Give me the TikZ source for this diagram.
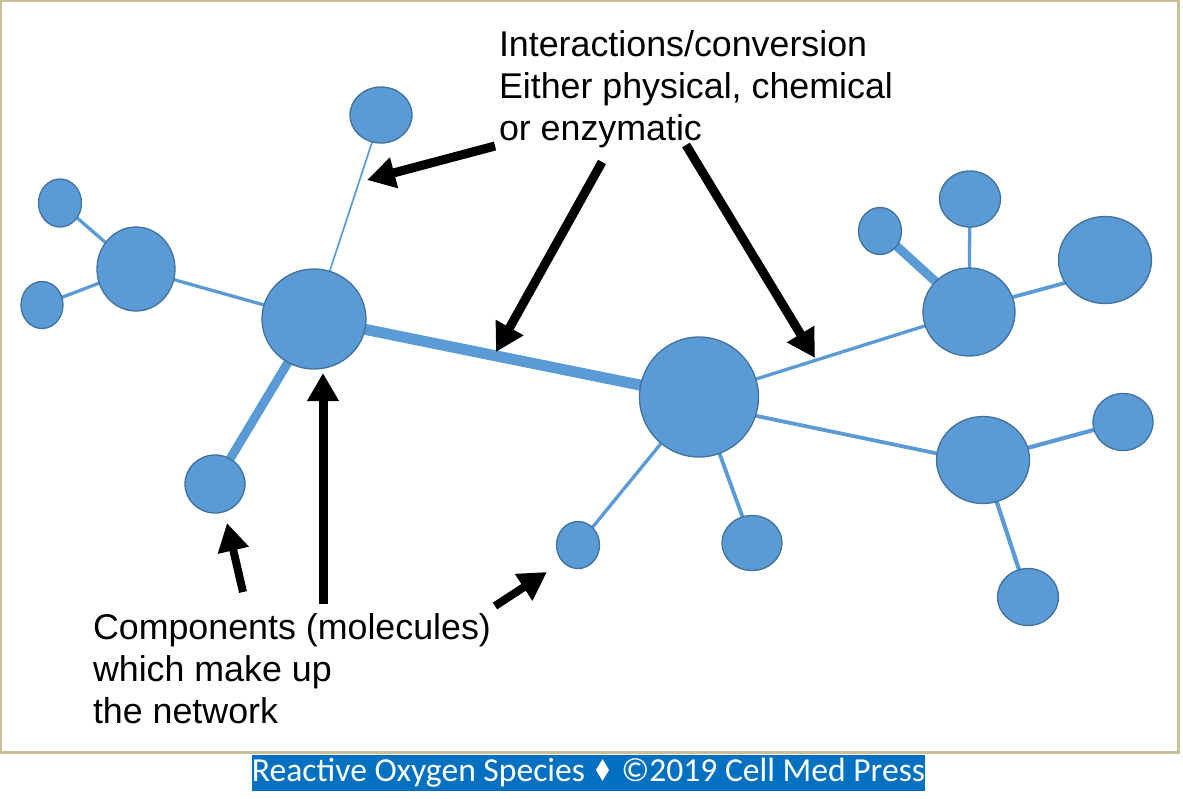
\documentclass[tikz,border=0pt]{standalone}
\usepackage{fontspec}
\setmainfont{Liberation Sans}
\newfontfamily\footfont{Carlito}
\newfontfamily\symfont{DejaVu Sans}
\usetikzlibrary{shapes.geometric,arrows.meta,backgrounds}
\definecolor{nodefill}{HTML}{5B9BD5}
\definecolor{nodeline}{HTML}{41719C}
\definecolor{framecol}{HTML}{C9C09A}
\definecolor{footblue}{HTML}{0070C0}
\tikzset{
  mol/.style={ellipse, fill=nodefill, draw=nodeline, line width=1.3pt, inner sep=0pt, outer sep=0pt},
  bond/.style={draw=nodefill, line width=#1},
  bond/.default=3.3pt,
  pointer/.style={draw=black, line width=9pt, -{Triangle[width=30pt,length=28pt]}},
  lbl/.style={anchor=base west, inner sep=0pt, outer sep=0pt, text=black, font=\fontsize{35.8}{42}\selectfont},
}
\begin{document}
\begin{tikzpicture}[x=1pt,y=-1pt]
\useasboundingbox (0,0) rectangle (1183,798);
\begin{pgfonlayer}{background}
\fill[white] (0,0) rectangle (1183,798);
\end{pgfonlayer}
\draw[framecol, line width=3pt] (0.5,0.5) rectangle (1178.5,752.5);

% molecules
\node[mol, minimum width=43pt, minimum height=48pt] (A) at (60,203) {};
\node[mol, minimum width=42pt, minimum height=47pt] (B) at (42,305) {};
\node[mol, minimum width=78pt, minimum height=84pt] (C) at (136,269) {};
\node[mol, minimum width=104pt, minimum height=100pt] (D) at (314,319) {};
\node[mol, minimum width=62pt, minimum height=56pt] (E) at (381,115) {};
\node[mol, minimum width=60pt, minimum height=58pt] (F) at (215,484) {};
\node[mol, minimum width=119pt, minimum height=120pt] (G) at (699,397) {};
\node[mol, minimum width=43pt, minimum height=47pt] (H) at (578,545) {};
\node[mol, minimum width=60pt, minimum height=55pt] (I) at (752,543) {};
\node[mol, minimum width=43pt, minimum height=47pt] (J) at (880,231) {};
\node[mol, minimum width=61pt, minimum height=56pt] (K) at (970,199) {};
\node[mol, minimum width=93pt, minimum height=87pt] (L) at (1105,260) {};
\node[mol, minimum width=92pt, minimum height=88pt] (M) at (969,312) {};
\node[mol, minimum width=93pt, minimum height=87pt] (N) at (983,460) {};
\node[mol, minimum width=60pt, minimum height=57pt] (O) at (1123,422) {};
\node[mol, minimum width=61pt, minimum height=57pt] (P) at (1028,597) {};

% bonds
\begin{pgfonlayer}{background}
\draw[bond] (A.center) -- (C.center);
\draw[bond] (B.center) -- (C.center);
\draw[bond] (C.center) -- (D.center);
\draw[bond=1.7pt] (E.center) -- (D.center);
\draw[bond=9pt] (D.center) -- (F.center);
\draw[bond=11pt] (D.center) -- (G.center);
\draw[bond] (G.center) -- (M.center);
\draw[bond=3.8pt] ([yshift=-7pt]G.center) -- ([yshift=-3pt]N.center);
\draw[bond] (G.center) -- (H.center);
\draw[bond=3.8pt] (G.center) -- (I.center);
\draw[bond=9pt] (M.center) -- (J.center);
\draw[bond] (M.center) -- (K.center);
\draw[bond=3.8pt] ([yshift=3pt]M.center) -- ([yshift=-12pt]L.center);
\draw[bond=4.2pt] (N.center) -- (O.center);
\draw[bond=4.2pt] (N.center) -- (P.center);
\end{pgfonlayer}

% texts
\node[lbl] (t1) at (499,56) {Interactions/conversion};
\node[lbl] (t2) at (499,98) {Either physical, chemical};
\node[lbl] (t3) at (499,140) {or enzymatic};
\node[lbl] (b1) at (93,639) {Components (molecules)};
\node[lbl] (b2) at (93,681) {which make up};
\node[lbl] (b3) at (93,723) {the network};

% pointer coordinates
\coordinate (p1s) at (495,146);
\coordinate (p1e) at (367,180);
\coordinate (p2s) at (602,162);
\coordinate (p2e) at (496,352);
\coordinate (p3s) at (686,145);
\coordinate (p3e) at (815,358);
\coordinate (p4s) at (323,604);
\coordinate (p4e) at (323,373);
\coordinate (p5s) at (243,592);
\coordinate (p5e) at (227,523);
\coordinate (p6s) at (495,606);
\coordinate (p6e) at (547,572);

\draw[pointer] (p1s) -- (p1e);
\draw[pointer] (p2s) -- (p2e);
\draw[pointer] (p3s) -- (p3e);
\draw[pointer] (p4s) -- (p4e);
\draw[pointer, line width=8pt] (p5s) -- (p5e);
\draw[pointer, line width=8pt] (p6s) -- (p6e);

% footer
\node[fill=footblue, text=white, minimum width=673pt, minimum height=36pt, inner sep=0pt, outer sep=0pt,
      font=\footfont\fontsize{33.6}{36}\selectfont] (foot) at (588.5,773)
  {Reactive Oxygen Species {\symfont\scalebox{0.7}[0.9]{♦}} ©2019 Cell Med Press};
\end{tikzpicture}
\end{document}
